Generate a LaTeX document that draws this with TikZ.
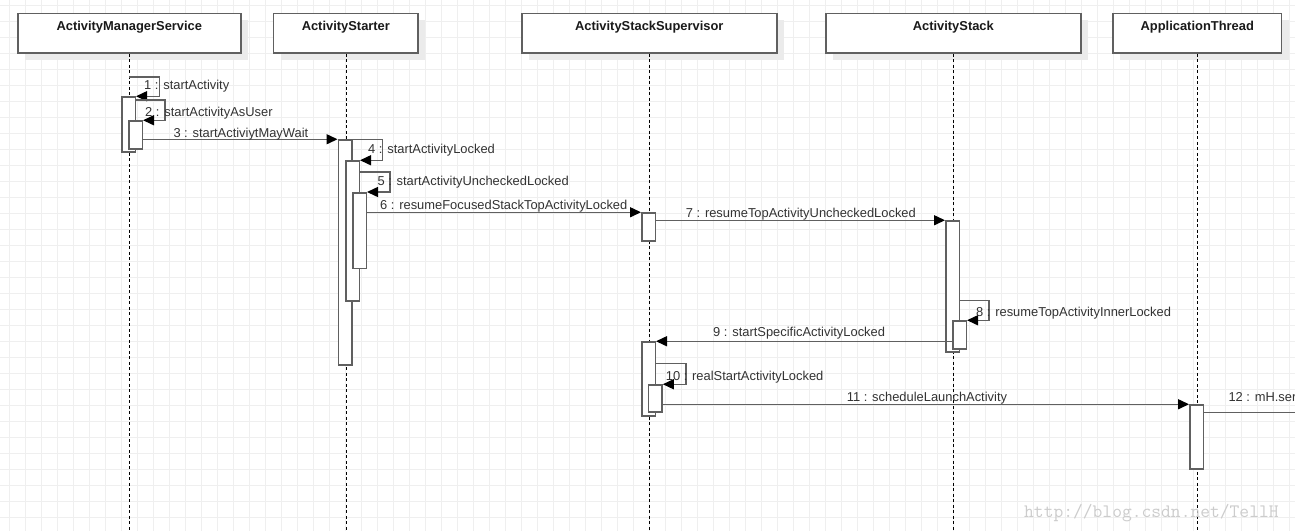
\documentclass[tikz,border=0pt]{standalone}
\usepackage{fontspec}
\setmainfont{Liberation Sans}
\usetikzlibrary{arrows.meta,shadows}
\definecolor{gridc}{HTML}{EFEFEF}
\definecolor{linec}{HTML}{606060}
\definecolor{shadowc}{HTML}{EBEBEB}
\definecolor{labelc}{HTML}{333333}
\definecolor{headc}{HTML}{1A1A1A}
\definecolor{wmc}{HTML}{CCCCCC}
\tikzset{
  gridline/.style={draw=gridc, line width=1pt},
  box/.style={draw=linec, line width=1.6pt, fill=white, anchor=north west, inner sep=0pt,
    minimum height=39.5pt,
    drop shadow={shadow xshift=7pt, shadow yshift=-6.5pt, fill=shadowc, opacity=1}},
  head/.style={anchor=base, inner sep=0pt, text=headc, font=\bfseries\fontsize{12.9}{15}\selectfont},
  life/.style={draw=black, line width=1pt, dash pattern=on 3pt off 2.5pt},
  act/.style={draw=linec, fill=white, line width=1.5pt, minimum width=13.5pt, inner sep=0pt, rectangle},
  msg/.style={draw=linec, line width=1.5pt, -{Triangle[length=11pt,width=10pt,color=black]}},
  plainmsg/.style={draw=linec, line width=1.5pt},
  lbl/.style={anchor=base west, inner sep=0pt, text=labelc, font=\fontsize{12.9}{15}\selectfont},
  wm/.style={anchor=base west, inner sep=0pt, text=wmc, font=\fontsize{19}{19}\ttfamily}
}
\begin{document}
\begin{tikzpicture}[x=1pt,y=-1pt]
\useasboundingbox (0,0) rectangle (1295,531);
\clip (0,0) rectangle (1295,531);
\fill[white] (0,0) rectangle (1295,531);
% grid
\foreach \i in {0,...,80} \draw[gridline] ({9.3+16*\i},0) -- ({9.3+16*\i},531);
\foreach \j in {0,...,32} \draw[gridline] (0,{5.3+16*\j}) -- (1295,{5.3+16*\j});

% participant boxes
\node[box, minimum width=223pt] (ams) at (17,12.8) {};
\node[box, minimum width=144.5pt] (as) at (272.8,12.8) {};
\node[box, minimum width=255pt] (ass) at (521,12.8) {};
\node[box, minimum width=255pt] (astk) at (825,12.8) {};
\node[box, minimum width=168.5pt] (at) at (1112.2,12.8) {};
\node[head] (amsT) at ([yshift=-17.2pt]ams.north) {ActivityManagerService};
\node[head] (asT) at ([yshift=-17.2pt]as.north) {ActivityStarter};
\node[head] (assT) at ([yshift=-17.2pt]ass.north) {ActivityStackSupervisor};
\node[head] (astkT) at ([yshift=-17.2pt]astk.north) {ActivityStack};
\node[head] (atT) at ([yshift=-17.2pt]at.north) {ApplicationThread};

% lifelines
\coordinate (amsL) at (129.3,531);
\coordinate (asL) at (346.7,531);
\coordinate (assL) at (649,531);
\coordinate (astkL) at (953.3,531);
\coordinate (atL) at (1197.7,531);
\draw[life] (amsL |- ams.south) -- (amsL);
\draw[life] (asL |- as.south) -- (asL);
\draw[life] (assL |- ass.south) -- (assL);
\draw[life] (astkL |- astk.south) -- (astkL);
\draw[life] (atL |- at.south) -- (atL);

% activations
\node[act, minimum height=55pt] (A1) at (128.5,124.5) {};
\node[act, minimum height=28pt] (A2) at (135.5,135) {};
\node[act, minimum height=225pt] (B1) at (345,252.5) {};
\node[act, minimum height=140pt] (B2) at (352.5,231) {};
\node[act, minimum height=75.5pt] (B3) at (359.5,230.5) {};
\node[act, minimum height=28pt] (C1) at (648.5,227) {};
\node[act, minimum height=74pt] (C2) at (648.5,379) {};
\node[act, minimum height=27pt] (C3) at (655.3,398.5) {};
\node[act, minimum height=131pt] (D1) at (952.5,286.5) {};
\node[act, minimum height=28pt] (D2) at (959.5,335) {};
\node[act, minimum height=64pt] (E1) at (1196.5,437) {};

% messages
\coordinate (m1) at (129.3,76.8);
\draw[msg] (m1) -- ++(30,0) |- (A1.north east);
\draw[msg] ([yshift=-3.7pt]A1.north east) -- ++(29,0) |- (A2.north east);
\draw[msg] (A2.east |- B1.north west) -- (B1.north west);
\draw[msg] (B1.north east) -- ++(30,0) |- (B2.north east);
\draw[msg] ([yshift=-11.7pt]B2.north east) -- ++(30,0) |- (B3.north east);
\draw[msg] (B3.east |- C1.north west) -- (C1.north west);
\draw[msg] (C1.east |- D1.north west) -- (D1.north west);
\coordinate (m8) at (959.2,300.7);
\draw[msg] (m8) -- ++(30,0) |- (D2.north east);
\draw[msg] (D2.west |- C2.north east) -- (C2.north east);
\draw[msg] ([yshift=-22.3pt]C2.north east) -- ++(30,0) |- (C3.north east);
\draw[msg] (C3.east |- E1.north west) -- (E1.north west);
\coordinate (m12) at (1300,412.7);
\draw[plainmsg] (E1.east |- m12) -- (m12);

% labels
\node[lbl] (L1) at (144,89.2) {1 : startActivity};
\node[lbl] (L2) at (145,116) {2 : startActivityAsUser};
\node[lbl] (L3) at (173.3,137.7) {3 : startActiviytMayWait};
\node[lbl] (L4) at (368,153.3) {4 : startActivityLocked};
\node[lbl] (L5) at (377.3,185.7) {5 : startActivityUncheckedLocked};
\node[lbl] (L6) at (380,209) {6 : resumeFocusedStackTopActivityLocked};
\node[lbl] (L7) at (685.7,217.3) {7 : resumeTopActivityUncheckedLocked};
\node[lbl] (L8) at (976,316.7) {8 : resumeTopActivityInnerLocked};
\node[lbl] (L9) at (713,336) {9 : startSpecificActivityLocked};
\node[lbl] (L10) at (665.7,380) {10 : realStartActivityLocked};
\node[lbl] (L11) at (846.7,401.3) {11 : scheduleLaunchActivity};
\node[lbl] (L12) at (1228.3,401) {12 : mH.ser};

% watermark
\node[wm] (wmk) at (1024,517.3) {http://blog.csdn.net/TellH};
\end{tikzpicture}
\end{document}
